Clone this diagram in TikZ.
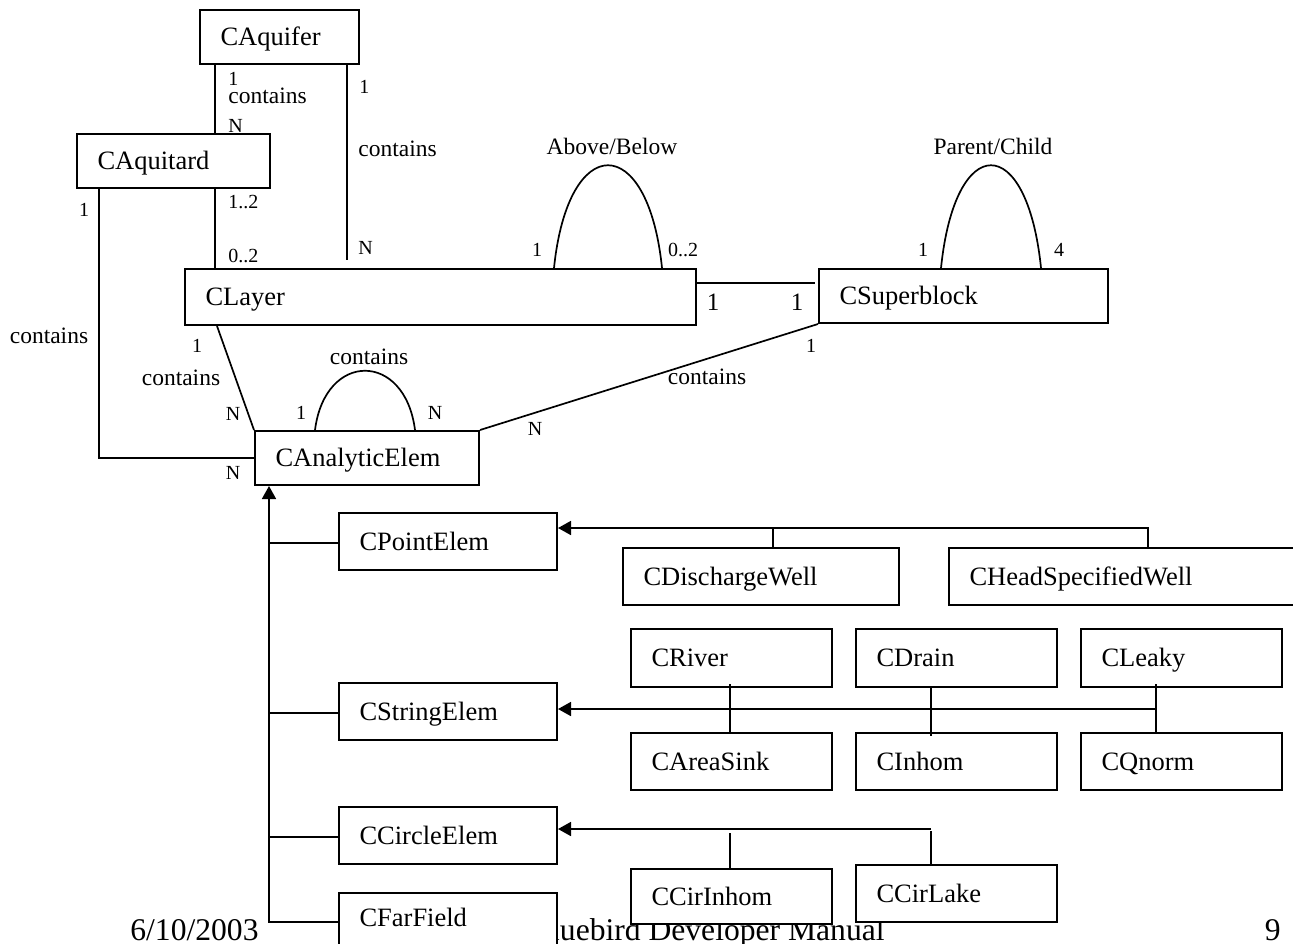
\documentclass[tikz,border=0pt]{standalone}
\usepackage{fontspec}
\setmainfont{Liberation Serif}
\usetikzlibrary{arrows.meta}

\newcommand\clsfont{\fontsize{13.25}{15}\selectfont}
\newcommand\lblfont{\fontsize{11.75}{14}\selectfont}
\newcommand\numfont{\fontsize{10}{12}\selectfont}
\newcommand\bignumfont{\fontsize{12.5}{15}\selectfont}
\newcommand\footfont{\fontsize{15.8}{18}\selectfont}

% class box: [options]{name}{left}{top}{right}{bottom}{text}, coordinates in px
\newcommand\umlbox[7][]{%
  \pgfmathsetmacro\ubW{(#5-#3)*0.5}%
  \pgfmathsetmacro\ubH{(#6-#4)*0.5}%
  \pgfmathsetmacro\ubT{(#5-#3)*0.5-20.5}%
  \node[cls, minimum width=\ubW pt, minimum height=\ubH pt, text width=\ubT pt, #1] (#2) at (#3,#4) {#7};%
}

\begin{document}
\begin{tikzpicture}[x=0.5pt,y=-0.5pt,
  cls/.style={draw, fill=white, line width=1pt, anchor=north west,
    inner xsep=10.25pt, inner ysep=0pt, align=left,
    text height=8.8pt, text depth=0pt, font=\clsfont},
  conn/.style={line width=0.85pt},
  inh/.style={conn, -{Triangle[length=6.5pt,width=7pt]}},
  lbl/.style={inner sep=0pt, font=\lblfont},
  num/.style={inner sep=0pt, font=\numfont},
  bignum/.style={inner sep=0pt, font=\bignumfont},
  foot/.style={inner sep=0pt, font=\footfont}]

\useasboundingbox (0,0) rectangle (1293,943);

% page footer (partly hidden behind the boxes)
\node[foot, anchor=base west] (date) at (130,940) {6/10/2003};
\node[foot, anchor=base east] (title) at (885,940) {Bluebird Developer Manual};
\node[foot, anchor=base east] (page) at (1281,940) {9};

% classes
\umlbox{aquifer}{199}{9}{358}{63}{CAquifer}
\umlbox{aquitard}{76}{133}{269}{187}{CAquitard}
\umlbox{layer}{184}{268}{695}{324}{CLayer}
\umlbox{superblock}{818}{268}{1107}{322}{CSuperblock}
\umlbox{analytic}{254}{430}{478}{484}{CAnalyticElem}
\umlbox{point}{338}{512}{556}{569}{CPointElem}
\umlbox{string}{338}{682}{556}{739}{CStringElem}
\umlbox{circle}{338}{806}{556}{863}{CCircleElem}
\umlbox[text depth=9.2pt]{farfield}{338}{892}{556}{960}{CFarField}
\umlbox{discharge}{622}{547}{898}{604}{CDischargeWell}
\umlbox{headwell}{948}{547}{1300}{604}{CHeadSpecifiedWell}
\umlbox{river}{630}{628}{831}{686}{CRiver}
\umlbox{drain}{855}{628}{1056}{686}{CDrain}
\umlbox{leaky}{1080}{628}{1281}{686}{CLeaky}
\umlbox{areasink}{630}{732}{831}{789}{CAreaSink}
\umlbox{inhom}{855}{732}{1056}{789}{CInhom}
\umlbox{qnorm}{1080}{732}{1281}{789}{CQnorm}
\umlbox{cirinhom}{630}{868}{831}{923}{CCirInhom}
\umlbox{cirlake}{855}{864}{1056}{921}{CCirLake}

% aquifer contains aquitards
\draw[conn] (aquifer.south -| 215,0) -- (aquitard.north -| 215,0);
\node[num, anchor=west] (m1) at (228,79) {1};
\node[lbl, anchor=west] (c1) at (228,96) {contains};
\node[num, anchor=west] (m2) at (228,126) {N};

% aquifer contains layers
\draw[conn, shorten >=4pt] (aquifer.south -| 347,0) -- (layer.north -| 347,0);
\node[num, anchor=west] (m3) at (359,87) {1};
\node[lbl, anchor=west] (c2) at (358,149) {contains};
\node[num, anchor=west] (m4) at (358,248) {N};

% aquitard / layer
\draw[conn] (aquitard.south -| 215,0) -- (layer.north -| 215,0);
\node[num, anchor=west] (m5) at (228,202) {1..2};
\node[num, anchor=west] (m6) at (228,256) {0..2};

% aquitard contains analytic elements
\draw[conn] (aquitard.south -| 99,0) |- (analytic.west |- 0,458);
\node[num] (m7) at (84,210) {1};
\node[lbl] (c3) at (49,336) {contains};
\node[num] (m8) at (233,473) {N};

% layer contains analytic elements
\draw[conn] (layer.south -| 217,0) -- (analytic.north west);
\node[num] (m9) at (197,346) {1};
\node[lbl] (c4) at (181,378) {contains};
\node[num] (m10) at (233,414) {N};

% analytic element self association
\draw[conn] (analytic.north -| 315,0) .. controls (325,351) and (405,351) .. (analytic.north -| 415,0);
\node[lbl] (c5) at (369,357) {contains};
\node[num] (m11) at (301,413) {1};
\node[num] (m12) at (435,413) {N};

% layer self association
\draw[conn] (layer.north -| 554,0) .. controls (568,131) and (648,131) .. (layer.north -| 662,0);
\node[lbl] (c6) at (612,146) {Above/Below};
\node[num] (m13) at (537,250) {1};
\node[num] (m14) at (683,250) {0..2};

% superblock self association
\draw[conn] (superblock.north -| 941,0) .. controls (955,131) and (1027,131) .. (superblock.north -| 1041,0);
\node[lbl] (c7) at (993,146) {Parent/Child};
\node[num] (m15) at (923,250) {1};
\node[num] (m16) at (1059,250) {4};

% layer / superblock
\draw[conn, shorten >=1.5pt] (layer.east |- 0,283) -- (superblock.west |- 0,283);
\node[bignum] (m17) at (713,302) {1};
\node[bignum] (m18) at (797,302) {1};

% superblock contains analytic elements
\draw[conn] (analytic.north east) -- (superblock.south west);
\node[num] (m19) at (811,346) {1};
\node[lbl] (c8) at (707,377) {contains};
\node[num] (m20) at (535,429) {N};

% generalisation of analytic elements
\draw[inh] (farfield.west |- 0,922) -| (analytic.south -| 269,0);
\draw[conn] (point.west |- 0,543) -- ++(-69,0);
\draw[conn] (string.west |- 0,713) -- ++(-69,0);
\draw[conn] (circle.west |- 0,837) -- ++(-69,0);

% point elements
\coordinate (pbus) at (0,528);
\draw[inh] (headwell.north -| 1148,0) |- (point.east |- pbus);
\draw[conn] (discharge.north -| 773,0) -- (773,0 |- pbus);

% string elements
\coordinate (sbus) at (0,709);
\draw[inh] (1156,0 |- sbus) -- (string.east |- sbus);
\draw[conn] (river.south -| 730,0) ++(0,-4) -- (areasink.north -| 730,0);
\draw[conn] (drain.south -| 931,0) -- (inhom.north -| 931,0) -- ++(0,4);
\draw[conn] (leaky.south -| 1156,0) ++(0,-4) -- (qnorm.north -| 1156,0);

% circle elements
\coordinate (cbus) at (0,829);
\draw[inh] (931,0 |- cbus) -- (circle.east |- cbus);
\draw[conn] (cirinhom.north -| 730,0) -- ++(0,-35);
\draw[conn] (cirlake.north -| 931,0) ++(0,2) -- ++(0,-35);

\end{tikzpicture}
\end{document}
